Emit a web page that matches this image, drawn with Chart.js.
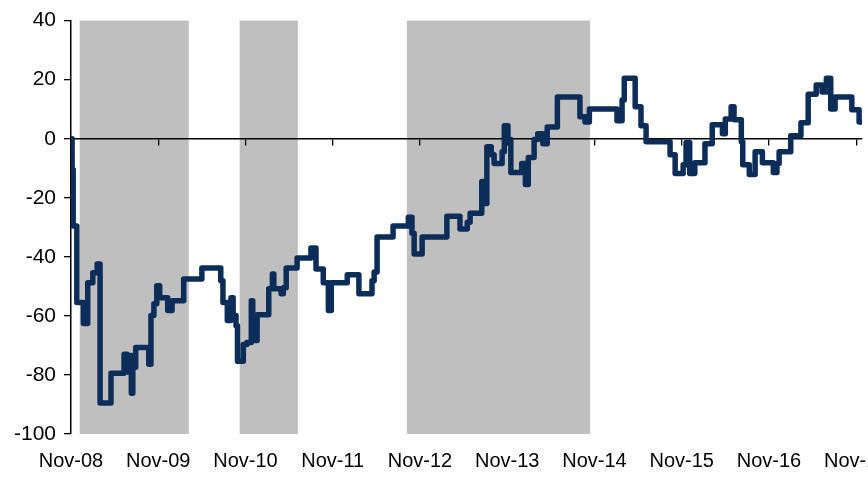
<!DOCTYPE html>
<html>
<head>
<meta charset="utf-8">
<script src="https://cdn.jsdelivr.net/npm/chart.js@4.4.1/dist/chart.umd.min.js"></script>
<style>
  html, body { margin: 0; padding: 0; background: #fff; overflow: hidden; }
  #wrap { width: 920px; height: 478px; }
</style>
</head>
<body>
<div id="wrap"><canvas id="lineChart" width="920" height="478"></canvas></div>
<script>
// months since Nov-08 where the series steps to a new level
const months = [0, 0.15, 0.3, 0.8, 1.7, 2.3, 3.0, 3.6, 4.0, 5.5,
    7.3, 7.7, 8.0, 8.3, 8.5, 8.9, 10.7, 11.0, 11.4, 11.8,
    12.2, 13.3, 13.9, 15.5, 18.0, 20.6, 20.9, 21.5, 22.0, 22.3,
    22.7, 22.9, 23.7, 24.2, 24.8, 25.0, 25.6, 27.2, 27.7, 27.9,
    28.9, 29.2, 29.6, 31.1, 33.0, 33.7, 34.7, 35.4, 35.8, 38.0,
    39.6, 41.4, 41.7, 42.1, 44.3, 46.4, 46.9, 47.2, 48.3, 51.7,
    53.5, 54.5, 54.9, 56.5, 57.0, 57.2, 57.8, 58.2, 59.3, 59.6,
    60.1, 60.5, 62.0, 62.5, 62.9, 63.7, 64.2, 64.9, 65.5, 66.9,
    70.0, 70.7, 71.3, 75.1, 75.8, 76.1, 77.6, 78.4, 79.1, 82.4,
    83.1, 84.2, 84.6, 85.1, 85.8, 87.2, 88.2, 89.6, 90.0, 90.8,
    91.2, 92.2, 92.4, 93.3, 94.1, 95.1, 96.6, 97.1, 97.4, 99.0,
    100.4, 101.4, 102.5, 103.3, 103.9, 104.5, 105.1, 107.4, 108.4, 108.8]
const values = [0, -10.4, -29.6, -55.5, -62.6, -48.8, -45.4, -42.4, -89.5, -79.4,
    -73.0, -79.0, -73.4, -86.2, -77.4, -70.7, -76.4, -59.9, -55.9, -49.8,
    -53.9, -58.2, -54.9, -47.5, -43.8, -48.1, -55.5, -61.6, -53.9, -59.9,
    -63.3, -75.4, -69.7, -69.0, -54.9, -68.3, -59.6, -50.8, -45.8, -50.8,
    -52.5, -50.5, -43.8, -40.4, -37.0, -44.1, -48.8, -58.2, -48.8, -46.1,
    -52.5, -48.1, -45.1, -33.3, -29.6, -26.6, -32.0, -39.0, -33.3, -26.3,
    -30.6, -28.3, -25.2, -14.5, -21.9, -2.7, -5.4, -8.4, -4.4, 4.4,
    -0.3, -11.4, -8.4, -15.5, -6.4, -0.3, 1.7, -1.7, 4.0, 14.1,
    7.4, 5.7, 10.1, 6.1, 13.1, 20.5, 10.8, 4.4, -1.0, -5.4,
    -11.8, -8.8, -1.3, -11.8, -8.1, -1.7, 4.7, 1.7, 6.7, 10.8,
    6.4, -1.0, -8.8, -12.1, -4.4, -8.1, -11.4, -8.4, -4.4, 1.0,
    5.4, 15.1, 18.2, 15.8, 20.5, 10.1, 14.1, 9.8, 5.7, 5.7]

const yearTicks = [0, 12, 24, 36, 48, 60, 72, 84, 96, 108]
const yearLabels = ['Nov-08', 'Nov-09', 'Nov-10', 'Nov-11', 'Nov-12',
    'Nov-13', 'Nov-14', 'Nov-15', 'Nov-16', 'Nov-17']

// grey bands, in months since Nov-08
const shadeStart = [1.2, 23.2, 46.2]
const shadeEnd = [16.2, 31.2, 71.4]

const xMin = 0
const xMax = 108.8
const fontFamily = "'Liberation Sans', Arial, sans-serif"

const shadePlugin = {
    id: 'shade',
    beforeDraw(chart) {
        const ctx = chart.ctx
        const area = chart.chartArea
        const x = chart.scales.x
        ctx.save()
        ctx.fillStyle = '#bfbfbf'
        for (let i = 0; i < shadeStart.length; i++) {
            let x1 = x.getPixelForValue(shadeStart[i])
            let x2 = x.getPixelForValue(shadeEnd[i])
            ctx.fillRect(x1, area.top, x2 - x1, area.bottom - area.top)
        }
        ctx.restore()
    }
}

const data = {
    datasets: [{
        data: months.map((m, i) => ({ x: m, y: values[i] })),
        borderColor: '#0c2d5a',
        borderWidth: 5.5,
        borderJoinStyle: 'round',
        stepped: true,
        pointRadius: 0,
        fill: false,
        xAxisID: 'x',
        yAxisID: 'y'
    }]
}

const config = {
    type: 'line',
    data: data,
    plugins: [shadePlugin],
    options: {
        responsive: false,
        animation: false,
        events: [],
        layout: { padding: { top: 18, right: 58, left: 0, bottom: 0 } },
        plugins: { legend: { display: false }, tooltip: { enabled: false } },
        scales: {
            x: {
                type: 'linear',
                position: { y: 0 },
                min: xMin,
                max: xMax,
                afterBuildTicks: function (scale) {
                    scale.ticks = yearTicks.map(v => ({ value: v }))
                },
                ticks: { display: false },
                grid: { drawOnChartArea: false, drawTicks: true, tickLength: 6, color: '#000', lineWidth: 1.3 },
                border: { display: true, color: '#000', width: 1.5 }
            },
            x2: {
                type: 'linear',
                position: 'bottom',
                min: xMin,
                max: xMax,
                afterBuildTicks: function (scale) {
                    scale.ticks = yearTicks.map(v => ({ value: v }))
                },
                afterFit: function (scale) { scale.height = 44 },
                ticks: {
                    padding: 15,
                    maxRotation: 0,
                    autoSkip: false,
                    color: '#000',
                    font: { family: fontFamily, size: 20 },
                    callback: function (v) { return yearLabels[yearTicks.indexOf(v)] }
                },
                grid: { display: false, drawTicks: false },
                border: { display: false }
            },
            y: {
                min: -100,
                max: 40,
                afterFit: function (scale) { scale.width = 71 },
                ticks: {
                    stepSize: 20,
                    padding: 8,
                    color: '#000',
                    font: { family: fontFamily, size: 21 }
                },
                grid: { drawOnChartArea: false, drawTicks: true, tickLength: 7, color: '#000', lineWidth: 1.3 },
                border: { display: true, color: '#000', width: 1.5 }
            }
        }
    }
}

new Chart(document.getElementById('lineChart'), config)
</script>
</body>
</html>
